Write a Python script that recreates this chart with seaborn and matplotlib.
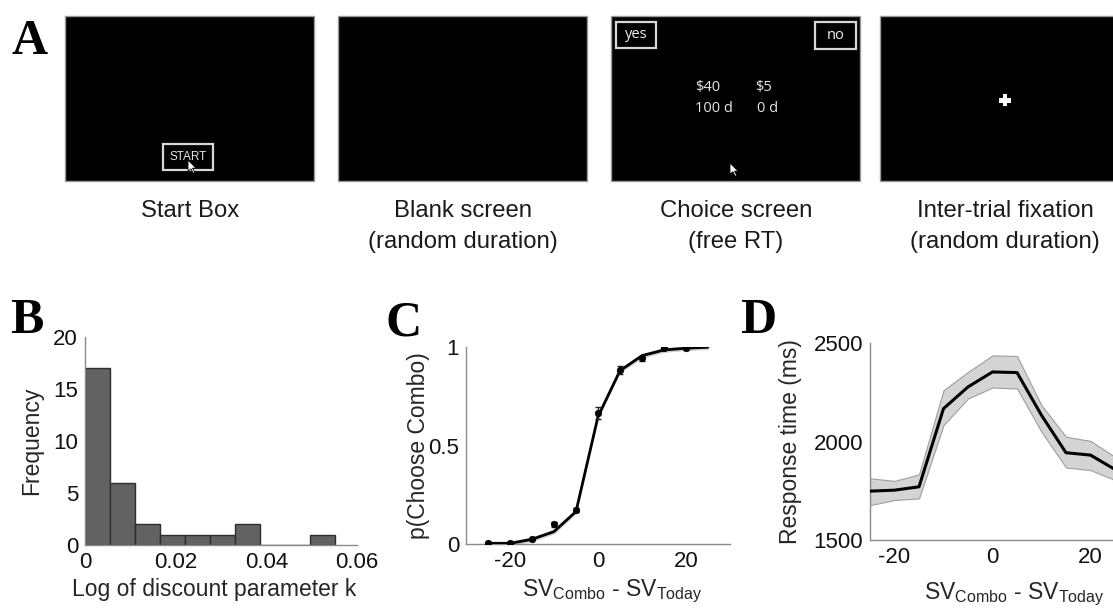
import numpy as np
import pandas as pd
import matplotlib
matplotlib.use("Agg")
import matplotlib.pyplot as plt
import seaborn as sns
from matplotlib.patches import Rectangle, Polygon

# ---------------- data ----------------
# B: histogram of discount parameter across subjects
hist_counts = [17, 6, 2, 1, 1, 1, 2, 0, 0, 1]
k_max = 0.0551

# C: choice proportion vs. subjective value difference
c_x = [-25, -20, -15, -10, -5, 0, 5, 10, 15, 20]
c_p = [0.007, 0.003, 0.024, 0.10, 0.172, 0.663, 0.883, 0.943, 0.993, 0.993]
c_err = [0.005, 0.004, 0.006, 0.012, 0.012, 0.03, 0.02, 0.012, 0.006, 0.006]
c_fit_x = [-25, -20, -15, -10, -5, 0, 5, 10, 15, 20, 25]
c_fit_y = [0.003, 0.003, 0.024, 0.063, 0.165, 0.647, 0.880, 0.956, 0.985, 0.994, 0.999]
c_fit_se = 0.012

# D: response time vs. subjective value difference
d_x = [-25, -20, -15, -10, -5, 0, 5, 10, 15, 20, 25]
d_rt = [1748, 1753, 1770, 2167, 2277, 2353, 2350, 2133, 1943, 1931, 1858]
d_hi = [1813, 1800, 1833, 2260, 2353, 2437, 2434, 2184, 2024, 2003, 1922]
d_lo = [1677, 1703, 1711, 2083, 2218, 2274, 2269, 2049, 1868, 1855, 1804]

screen_captions = [["Start Box"],
                   ["Blank screen", "(random duration)"],
                   ["Choice screen", "(free RT)"],
                   ["Inter-trial fixation", "(random duration)"]]

# ---------------- style ----------------
sns.set_theme(style="white")
plt.rcParams["font.family"] = ["Liberation Sans", "DejaVu Sans"]
plt.rcParams["mathtext.fontset"] = "custom"
plt.rcParams["mathtext.rm"] = "Liberation Sans"
plt.rcParams["mathtext.it"] = "Liberation Sans:italic"
plt.rcParams["axes.unicode_minus"] = False

W, H = 1113, 609
fig = plt.figure(figsize=(W / 100, H / 100), dpi=100)

# pixel-space canvas for the task screens
cv = fig.add_axes([0, 0, 1, 1], zorder=0)
cv.set_xlim(0, W)
cv.set_ylim(H, 0)
cv.axis("off")

scr_left = [65, 338, 611, 880]
scr_top, scr_w, scr_h = 16, 249, 165
for x0 in scr_left:
    cv.add_patch(Rectangle((x0, scr_top), scr_w, scr_h, facecolor="black",
                           edgecolor="#9a9a9a", lw=1))


def cursor(x, y, s=1.0):
    pts = np.array([(0, 0), (0, 12), (3, 9.2), (5.5, 14), (7.2, 13.2),
                    (4.8, 8.6), (8.5, 8.6)]) * s
    pts[:, 0] += x
    pts[:, 1] += y
    cv.add_patch(Polygon(pts, closed=True, facecolor="white",
                         edgecolor="black", lw=0.6, zorder=3))


# start screen
cv.add_patch(Rectangle((163, 144), 50, 26, fill=False, edgecolor="#d8d8d8", lw=1.6))
cv.text(188, 157.5, "START", color="#e6e6e6", fontsize=8.5, ha="center", va="center")
cursor(188, 160, 0.95)

# choice screen
cv.add_patch(Rectangle((616, 22), 40, 26, fill=False, edgecolor="#d8d8d8", lw=1.6))
cv.text(636, 35, "yes", color="#f0f0f0", fontsize=10.5, ha="center", va="center",
        family="Open Sans")
cv.add_patch(Rectangle((815, 22), 41, 27, fill=False, edgecolor="#d8d8d8", lw=1.6))
cv.text(835.5, 35.5, "no", color="#f0f0f0", fontsize=10.5, ha="center", va="center",
        family="Open Sans")
for txt, x, y in [("$40", 695, 88), ("$5", 755, 88), ("100 d", 695, 108), ("0 d", 757, 108)]:
    cv.text(x, y, txt, color="#e6e6e6", fontsize=10.5, ha="left", va="center",
            family="Open Sans")
cursor(730, 163, 0.95)

# fixation cross
cv.add_patch(Rectangle((999, 98), 12, 4.5, facecolor="white", lw=0))
cv.add_patch(Rectangle((1002.8, 94.2), 4.5, 12, facecolor="white", lw=0))

for x0, lines in zip(scr_left, screen_captions):
    for i, line in enumerate(lines):
        cv.text(x0 + scr_w / 2 + 0.5, 217 + 31 * i, line, fontsize=17.2, ha="center",
                va="baseline", color="#1a1a1a")

# panel letters
for lab, x, y in [("A", 11, 54), ("B", 10, 333), ("C", 385, 336), ("D", 740, 333)]:
    cv.text(x, y, lab, fontsize=36, fontweight="bold", family="Liberation Serif",
            ha="left", va="baseline", color="black")

spine_c = "#8a8a8a"


def style_axes(ax):
    sns.despine(ax=ax)
    for s in ("left", "bottom"):
        ax.spines[s].set_color(spine_c)
        ax.spines[s].set_linewidth(1.0)
    ax.tick_params(direction="in", length=3, width=0.8, color=spine_c,
                   labelsize=16, pad=5, labelcolor="#111111")
    ax.set_facecolor("none")


def px_axes(left, right, top, bottom):
    return fig.add_axes([left / W, 1 - bottom / H, (right - left) / W, (bottom - top) / H])


# ---------------- B ----------------
axB = px_axes(85, 357, 337, 545)
edges = np.linspace(0, k_max, len(hist_counts) + 1)
hist_df = pd.DataFrame({"k": (edges[:-1] + edges[1:]) / 2, "n": hist_counts})
sns.histplot(data=hist_df, x="k", weights="n", bins=edges.tolist(), ax=axB,
             color="#626262", edgecolor="#2e2e2e", linewidth=1.0, alpha=1)
axB.set_xlim(0, 0.06)
axB.set_ylim(0, 20)
axB.set_xticks([0, 0.02, 0.04, 0.06])
axB.set_xticklabels(["0", "0.02", "0.04", "0.06"])
axB.set_yticks([0, 5, 10, 15, 20])
axB.set_xlabel("Log of discount parameter k", fontsize=16.5)
axB.set_ylabel("Frequency", fontsize=16.5)
style_axes(axB)
axB.xaxis.set_label_coords(0.474, -0.16)
axB.yaxis.set_label_coords(-0.155, 0.5)

# ---------------- C ----------------
axC = px_axes(466, 730, 347, 544)
axC.fill_between(c_fit_x, np.array(c_fit_y) - c_fit_se, np.array(c_fit_y) + c_fit_se,
                 color="#cfcfcf", lw=0, zorder=1)
sns.lineplot(x=c_fit_x, y=c_fit_y, ax=axC, color="black", lw=2.0, zorder=3)
axC.errorbar(c_x, c_p, yerr=c_err, fmt="none", ecolor="#222222", elinewidth=1,
             capsize=2, zorder=4)
sns.scatterplot(x=c_x, y=c_p, ax=axC, color="black", s=22, edgecolor="black",
                linewidth=0.5, zorder=5)
axC.set_xlim(-30, 30)
axC.set_ylim(0, 1)
axC.set_xticks([-20, 0, 20])
axC.set_yticks([0, 0.5, 1])
axC.set_yticklabels(["0", "0.5", "1"])
axC.set_xlabel(r"SV$_{\mathregular{Combo}}$ - SV$_{\mathregular{Today}}$", fontsize=16.5)
axC.set_ylabel("p(Choose Combo)", fontsize=16.5)
style_axes(axC)
axC.xaxis.set_label_coords(0.553, -0.17)
axC.yaxis.set_label_coords(-0.137, 0.5)

# ---------------- D ----------------
axD = px_axes(870, 1115, 343, 540)
axD.fill_between(d_x, d_lo, d_hi, facecolor="#d4d4d4", edgecolor="#9e9e9e", lw=0.8,
                 zorder=1)
sns.lineplot(x=d_x, y=d_rt, ax=axD, color="black", lw=2.2, zorder=3)
axD.set_xlim(-25, 25)
axD.set_ylim(1500, 2500)
axD.set_xticks([-20, 0, 20])
axD.set_yticks([1500, 2000, 2500])
axD.set_xlabel(r"SV$_{\mathregular{Combo}}$ - SV$_{\mathregular{Today}}$", fontsize=16.5)
axD.set_ylabel("Response time (ms)", fontsize=16.5)
style_axes(axD)
axD.xaxis.set_label_coords(0.59, -0.205)
axD.yaxis.set_label_coords(-0.278, 0.5)

fig.savefig("out.png", dpi=100)
